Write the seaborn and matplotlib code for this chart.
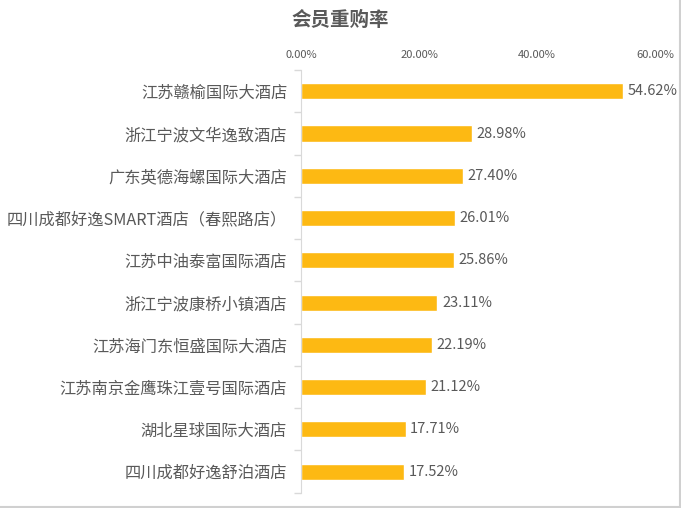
import numpy as np
import pandas as pd
import matplotlib
matplotlib.use("Agg")
import matplotlib.pyplot as plt
from matplotlib.lines import Line2D
from matplotlib.ticker import FixedLocator, PercentFormatter
import seaborn as sns

hotels = ['江苏赣榆国际大酒店', '浙江宁波文华逸致酒店', '广东英德海螺国际大酒店',
          '四川成都好逸SMART酒店（春熙路店）', '江苏中油泰富国际酒店', '浙江宁波康桥小镇酒店',
          '江苏海门东恒盛国际大酒店', '江苏南京金鹰珠江壹号国际酒店', '湖北星球国际大酒店',
          '四川成都好逸舒泊酒店']
rates = [54.62, 28.98, 27.40, 26.01, 25.86, 23.11, 22.19, 21.12, 17.71, 17.52]
x_ticks = [0, 20, 40, 60]

sns.set_style("white")
plt.rcParams['font.family'] = ['Noto Sans CJK SC', 'DejaVu Sans']
text_color = '#595959'

df = pd.DataFrame({'hotel': hotels, 'rate': rates})

fig = plt.figure(figsize=(6.81, 5.08), dpi=100)
ax = fig.add_axes([0.442, 0.030, 0.520, 0.832])
sns.barplot(data=df, x='rate', y='hotel', color='#FDB913', saturation=1,
            width=0.38, ax=ax)

ax.set_xlim(0, 60)
ax.set_ylim(len(hotels) - 0.5, -0.5)
ax.xaxis.tick_top()
ax.set_xticks(x_ticks)
ax.xaxis.set_major_formatter(PercentFormatter(decimals=2))
ax.tick_params(axis='x', length=0, labelsize=8, labelcolor=text_color, pad=7)
ax.tick_params(axis='y', length=0, labelsize=11.7, labelcolor=text_color, pad=10)
ax.yaxis.set_minor_locator(FixedLocator(np.arange(-0.5, len(hotels), 1)))
ax.tick_params(axis='y', which='minor', left=True, length=5,
               color='#d9d9d9', width=1)
ax.set_xlabel('')
ax.set_ylabel('')

for s in ['top', 'right', 'bottom']:
    ax.spines[s].set_visible(False)
ax.spines['left'].set_color('#d9d9d9')

for i, v in enumerate(rates):
    ax.text(v + 0.8, i, f'{v:.2f}%', va='center', ha='left',
            fontsize=10.5, color=text_color)

fig.text(0.5, 0.96, '会员重购率', ha='center', va='center', fontsize=14,
         fontweight='bold', color=text_color)

# light frame on the right and bottom edge
fig.add_artist(Line2D([0.998, 0.998], [0, 1], transform=fig.transFigure,
                      color='#d0d0d0', lw=1.5))
fig.add_artist(Line2D([0, 1], [0.002, 0.002], transform=fig.transFigure,
                      color='#d0d0d0', lw=1.5))

fig.savefig('out.png', dpi=100)
